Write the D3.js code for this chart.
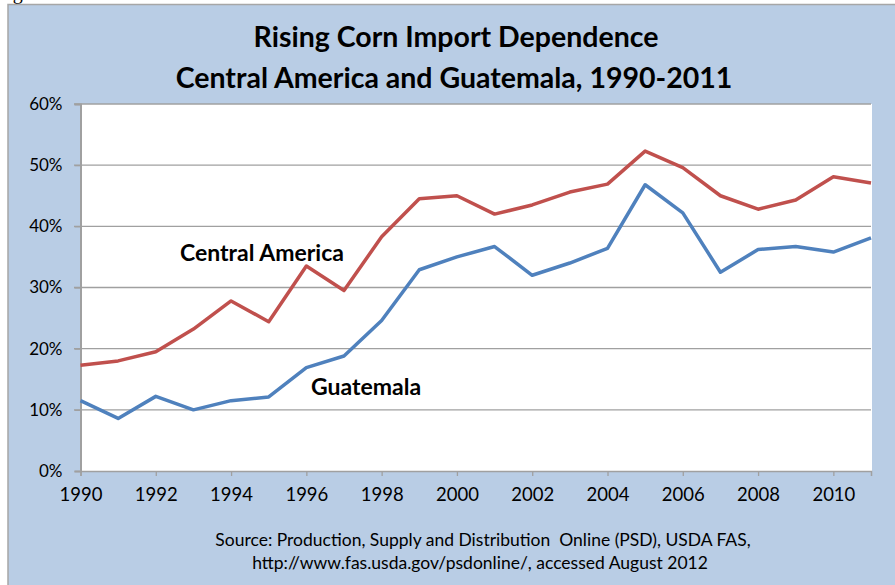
<!DOCTYPE html>
<html>
<head>
<meta charset="utf-8">
<script src="https://cdn.jsdelivr.net/npm/d3@7"></script>
<style>
  html, body { margin: 0; padding: 0; background: #ffffff; }
  svg { display: block; }
  text { font-family: Lato, "Noto Sans", sans-serif; fill: #000; white-space: pre; }
</style>
</head>
<body>
<svg id="chart" width="895" height="585"></svg>
<script>
const years = d3.range(1990, 2012);
const centralAmerica = [17.3, 18.0, 19.5, 23.2, 27.8, 24.4, 33.5, 29.5, 38.3, 44.5, 45.0, 42.0, 43.5, 45.6, 46.9, 52.3, 49.6, 45.0, 42.8, 44.3, 48.1, 47.1];
const guatemala = [11.5, 8.6, 12.2, 10.0, 11.5, 12.1, 16.9, 18.8, 24.6, 32.9, 35.0, 36.7, 32.0, 34.0, 36.4, 46.8, 42.2, 32.5, 36.2, 36.7, 35.8, 38.1];
const yTicks = [0, 10, 20, 30, 40, 50, 60];
const xTicks = d3.range(1990, 2012, 2);
const titleLines = ["Rising Corn Import Dependence", "Central America and Guatemala, 1990-2011"];
const sourceLines = ["Source: Production, Supply and Distribution  Online (PSD), USDA FAS,", "http://www.fas.usda.gov/psdonline/, accessed August 2012"];

const svg = d3.select("#chart");
const W = 895, H = 585;

// Figure label fragment above the chart (cut off in the reference)
svg.append("text").attr("x", -4).attr("y", -1).style("font-family", "'Liberation Serif', serif").style("font-size", "20px").text("Figure");

// chart area
svg.append("rect").attr("x", 8).attr("y", 4.5).attr("width", W).attr("height", H)
  .attr("fill", "#b9cde5").attr("stroke", "#a6a6a6").attr("stroke-width", 1.5);

const x = d3.scaleLinear().domain([1990, 2011]).range([80.5, 871]);
const y = d3.scaleLinear().domain([0, 60]).range([471, 104]);

// plot area
svg.append("rect").attr("x", 81).attr("y", 104).attr("width", 791).attr("height", 367).attr("fill", "#ffffff");

// gridlines
svg.append("g").selectAll("line").data(yTicks.filter(d => d > 0)).join("line")
  .attr("x1", 74).attr("x2", 871)
  .attr("y1", d => y(d)).attr("y2", d => y(d))
  .attr("stroke", "#a0a0a0").attr("stroke-width", 1.3);

// y axis
const yAxis = svg.append("g").attr("transform", "translate(80.5,0)")
  .call(d3.axisLeft(y).tickValues(yTicks).tickFormat(d => d + "%").tickSize(6).tickPadding(12));
yAxis.select(".domain").attr("stroke", "#a0a0a0").attr("stroke-width", 2);
yAxis.selectAll(".tick line").attr("stroke", "#a0a0a0").attr("stroke-width", 1.3);
yAxis.selectAll("text").style("font-size", "17px").style("font-family", "Lato, sans-serif").attr("fill", "#000");

// x axis
const xAxis = svg.append("g").attr("transform", "translate(0,471)")
  .call(d3.axisBottom(x).tickValues(xTicks).tickFormat(d3.format("d")).tickSize(5).tickPadding(12));
xAxis.select(".domain").attr("stroke", "#a0a0a0").attr("stroke-width", 1.5);
xAxis.selectAll(".tick line").attr("stroke", "#a0a0a0").attr("stroke-width", 1.3);
xAxis.selectAll("text").style("font-size", "18.5px").style("font-family", "Lato, sans-serif").attr("fill", "#000");

// lines
const line = d3.line().x((d, i) => x(years[i])).y(d => y(d));
svg.append("path").datum(centralAmerica).attr("d", line)
  .attr("fill", "none").attr("stroke", "#c0504d").attr("stroke-width", 3.5).attr("stroke-linejoin", "round");
svg.append("path").datum(guatemala).attr("d", line)
  .attr("fill", "none").attr("stroke", "#4f81bd").attr("stroke-width", 3.5).attr("stroke-linejoin", "round");

// series labels
svg.append("text").attr("x", 180).attr("y", 261).style("font-size", "23px").style("font-weight", "bold").text("Central America");
svg.append("text").attr("x", 311).attr("y", 395).style("font-size", "23px").style("font-weight", "bold").text("Guatemala");

// title
svg.append("text").attr("x", 456).attr("y", 47).attr("text-anchor", "middle")
  .style("font-size", "28.5px").style("font-weight", "bold").text(titleLines[0]);
svg.append("text").attr("x", 454).attr("y", 88).attr("text-anchor", "middle")
  .style("font-size", "28.5px").style("font-weight", "bold").text(titleLines[1]);

// source
svg.append("text").attr("x", 483).attr("y", 546).attr("text-anchor", "middle")
  .style("font-size", "17.5px").text(sourceLines[0]);
svg.append("text").attr("x", 480).attr("y", 569).attr("text-anchor", "middle")
  .style("font-size", "17.5px").text(sourceLines[1]);
</script>
</body>
</html>
